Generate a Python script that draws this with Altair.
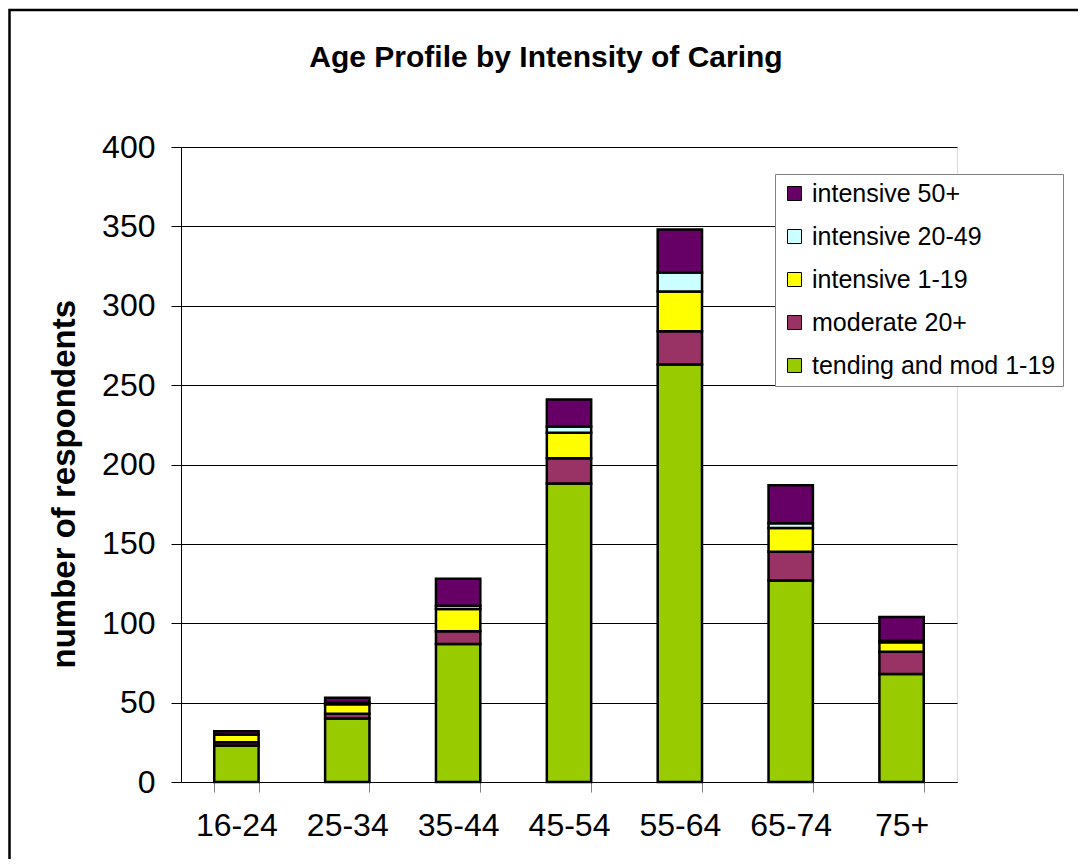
import altair as alt
import pandas as pd

ages = ["16-24", "25-34", "35-44", "45-54", "55-64", "65-74", "75+"]
series = ["tending and mod 1-19", "moderate 20+", "intensive 1-19", "intensive 20-49", "intensive 50+"]
tending = [23, 40, 87, 188, 263, 127, 68]
moderate = [2, 3, 8, 16, 21, 18, 14]
int_1_19 = [5, 6, 14, 16, 25, 15, 6]
int_20_49 = [0, 1, 2, 4, 12, 3, 1]
int_50 = [2, 3, 17, 17, 27, 24, 15]
colors = ["#99CC00", "#993366", "#FFFF00", "#CCFFFF", "#660066"]
title_text = ["Age Profile by Intensity of Caring"]

values = [tending, moderate, int_1_19, int_20_49, int_50]
rows = []
for si, (name, vals) in enumerate(zip(series, values)):
    for a, v in zip(ages, vals):
        rows.append({"age": a, "series": name, "count": v, "order": si})
df = pd.DataFrame(rows)

FONT = "Liberation Sans"
legend_domain = series[::-1]
legend_range = colors[::-1]

bars = alt.Chart(df).mark_bar(stroke="black", strokeWidth=2.5).encode(
    x=alt.X("age:N", sort=ages,
            scale=alt.Scale(paddingInner=0.6, paddingOuter=0.3),
            axis=alt.Axis(title=None, labelAngle=0, labelFontSize=32, labelFont=FONT,
                          labelColor="black", tickSize=10, tickColor="#808080",
                          tickBand="extent", domainColor="black", labelPadding=18)),
    y=alt.Y("count:Q", stack="zero",
            scale=alt.Scale(domain=[0, 400], nice=False),
            axis=alt.Axis(values=list(range(0, 401, 50)), labelFontSize=32, labelFont=FONT,
                          labelColor="black", tickSize=10, tickColor="black",
                          labelPadding=16, domainColor="black", gridColor="black",
                          gridOpacity=1, title="number of respondents",
                          titleFont=FONT, titleFontSize=33, titleFontWeight="bold",
                          titleColor="black", titleAngle=270, titleAlign="left",
                          titleBaseline="middle", titleX=-117, titleY=521)),
    color=alt.Color("series:N",
                    scale=alt.Scale(domain=legend_domain, range=legend_range),
                    legend=alt.Legend(title=None, orient="none", legendX=594, legendY=27,
                                      fillColor="white", strokeColor="#808080",
                                      padding=7, labelFontSize=25, labelFont=FONT,
                                      labelColor="black", symbolType="square",
                                      symbolSize=196, symbolStrokeColor="black",
                                      symbolStrokeWidth=1, rowPadding=17,
                                      labelOffset=5, symbolOpacity=1, labelLimit=400)),
    order=alt.Order("order:Q", sort="ascending"),
)

title = alt.Chart(pd.DataFrame({"t": title_text})).mark_text(
    font=FONT, fontSize=30, fontWeight="bold", color="black",
    align="center", baseline="alphabetic"
).encode(text="t:N", x=alt.value(365), y=alt.value(-80))

frame = alt.Chart(pd.DataFrame({"f": [0]})).mark_rect(
    fill="white", fillOpacity=0, stroke="black", strokeWidth=2.5
).encode(x=alt.value(-171.5), x2=alt.value(1000), y=alt.value(-137), y2=alt.value(900))

chart = alt.layer(bars, title, frame).properties(
    width=776, height=635,
    autosize=alt.AutoSizeParams(type="none"),
    padding={"left": 173, "top": 139, "right": 121, "bottom": 77},
).configure_view(
    fill="#FFFFCC", stroke="#808080", strokeWidth=2
).configure(background="white")

chart.save("out.html", embed_options={"renderer": "svg", "actions": False})
